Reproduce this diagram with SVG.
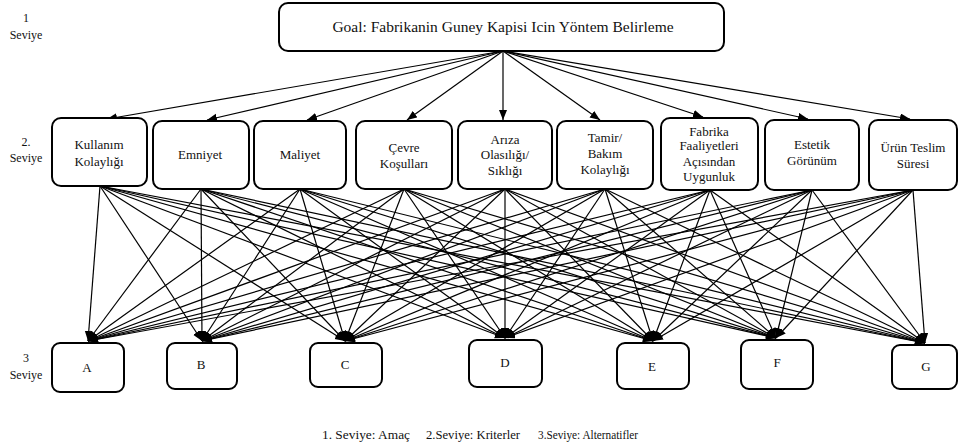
<svg xmlns="http://www.w3.org/2000/svg" width="959" height="445" viewBox="0 0 959 445">
<style>
.box{fill:#fff;stroke:#000;stroke-width:2}
.c line{stroke:#000;stroke-width:1.2;marker-end:url(#ah)}
</style>
<defs>
<marker id="ah" markerUnits="userSpaceOnUse" markerWidth="11" markerHeight="9" refX="10" refY="4" orient="auto">
<path d="M0,0 L10,4 L0,8 Z" fill="#000"/>
</marker>
</defs>
<rect width="959" height="445" fill="#fff"/>
<g id="level-labels" font-family="Liberation Serif" font-size="12" fill="#111" text-anchor="middle">
<text x="26" y="22">1</text>
<text x="26" y="39">Seviye</text>
<text x="26" y="146">2.</text>
<text x="26" y="162">Seviye</text>
<text x="26" y="362">3</text>
<text x="26" y="379">Seviye</text>
</g>
<g class="c" id="connectors">
<line x1="503" y1="51" x2="107" y2="119"/>
<line x1="503" y1="51" x2="207" y2="120"/>
<line x1="503" y1="51" x2="307" y2="120"/>
<line x1="503" y1="51" x2="407" y2="120"/>
<line x1="503" y1="51" x2="503" y2="120"/>
<line x1="503" y1="51" x2="600" y2="120"/>
<line x1="503" y1="51" x2="703" y2="117"/>
<line x1="503" y1="51" x2="808" y2="119"/>
<line x1="503" y1="51" x2="910" y2="119"/>

<line x1="100" y1="186" x2="88" y2="341"/>
<line x1="100" y1="186" x2="202" y2="341"/>
<line x1="100" y1="186" x2="345" y2="341"/>
<line x1="100" y1="186" x2="505" y2="338"/>
<line x1="100" y1="186" x2="653" y2="341"/>
<line x1="100" y1="186" x2="776" y2="338"/>
<line x1="100" y1="186" x2="925" y2="343"/>

<line x1="201" y1="189" x2="88" y2="341"/>
<line x1="201" y1="189" x2="202" y2="341"/>
<line x1="201" y1="189" x2="345" y2="341"/>
<line x1="201" y1="189" x2="505" y2="338"/>
<line x1="201" y1="189" x2="653" y2="341"/>
<line x1="201" y1="189" x2="776" y2="338"/>
<line x1="201" y1="189" x2="925" y2="343"/>

<line x1="300" y1="189" x2="88" y2="341"/>
<line x1="300" y1="189" x2="202" y2="341"/>
<line x1="300" y1="189" x2="345" y2="341"/>
<line x1="300" y1="189" x2="505" y2="338"/>
<line x1="300" y1="189" x2="653" y2="341"/>
<line x1="300" y1="189" x2="776" y2="338"/>
<line x1="300" y1="189" x2="925" y2="343"/>

<line x1="404" y1="189" x2="88" y2="341"/>
<line x1="404" y1="189" x2="202" y2="341"/>
<line x1="404" y1="189" x2="345" y2="341"/>
<line x1="404" y1="189" x2="505" y2="338"/>
<line x1="404" y1="189" x2="653" y2="341"/>
<line x1="404" y1="189" x2="776" y2="338"/>
<line x1="404" y1="189" x2="925" y2="343"/>

<line x1="505" y1="189" x2="88" y2="341"/>
<line x1="505" y1="189" x2="202" y2="341"/>
<line x1="505" y1="189" x2="345" y2="341"/>
<line x1="505" y1="189" x2="505" y2="338"/>
<line x1="505" y1="189" x2="653" y2="341"/>
<line x1="505" y1="189" x2="776" y2="338"/>
<line x1="505" y1="189" x2="925" y2="343"/>

<line x1="605" y1="189" x2="88" y2="341"/>
<line x1="605" y1="189" x2="202" y2="341"/>
<line x1="605" y1="189" x2="345" y2="341"/>
<line x1="605" y1="189" x2="505" y2="338"/>
<line x1="605" y1="189" x2="653" y2="341"/>
<line x1="605" y1="189" x2="776" y2="338"/>
<line x1="605" y1="189" x2="925" y2="343"/>

<line x1="710" y1="190" x2="88" y2="341"/>
<line x1="710" y1="190" x2="202" y2="341"/>
<line x1="710" y1="190" x2="345" y2="341"/>
<line x1="710" y1="190" x2="505" y2="338"/>
<line x1="710" y1="190" x2="653" y2="341"/>
<line x1="710" y1="190" x2="776" y2="338"/>
<line x1="710" y1="190" x2="925" y2="343"/>

<line x1="812" y1="190" x2="88" y2="341"/>
<line x1="812" y1="190" x2="202" y2="341"/>
<line x1="812" y1="190" x2="345" y2="341"/>
<line x1="812" y1="190" x2="505" y2="338"/>
<line x1="812" y1="190" x2="653" y2="341"/>
<line x1="812" y1="190" x2="776" y2="338"/>
<line x1="812" y1="190" x2="925" y2="343"/>

<line x1="913" y1="190" x2="88" y2="341"/>
<line x1="913" y1="190" x2="202" y2="341"/>
<line x1="913" y1="190" x2="345" y2="341"/>
<line x1="913" y1="190" x2="505" y2="338"/>
<line x1="913" y1="190" x2="653" y2="341"/>
<line x1="913" y1="190" x2="776" y2="338"/>
<line x1="913" y1="190" x2="925" y2="343"/>
</g>

<g id="goal">
<rect class="box" x="279" y="3" width="445" height="48" rx="9"/>
<text x="503" y="32" font-family="Liberation Serif" font-size="15.5" fill="#111" text-anchor="middle">Goal: Fabrikanin Guney Kapisi Icin Yöntem Belirleme</text>
</g>

<g id="level2" font-family="Liberation Serif" font-size="13" fill="#111" text-anchor="middle">
<g id="kullanim">
<rect class="box" x="52" y="118" width="95" height="68" rx="9"/>
<text x="99" y="149">Kullanım</text>
<text x="99" y="166">Kolaylığı</text>
</g>
<g id="emniyet">
<rect class="box" x="153" y="121" width="96" height="68" rx="9"/>
<text x="200" y="159">Emniyet</text>
</g>
<g id="maliyet">
<rect class="box" x="254" y="121" width="92" height="68" rx="9"/>
<text x="300" y="159">Maliyet</text>
</g>
<g id="cevre">
<rect class="box" x="356" y="121" width="96" height="68" rx="9"/>
<text x="404" y="152">Çevre</text>
<text x="404" y="168">Koşulları</text>
</g>
<g id="ariza">
<rect class="box" x="458" y="121" width="94" height="68" rx="9"/>
<text x="505" y="144">Arıza</text>
<text x="505" y="159">Olasılığı/</text>
<text x="505" y="175">Sıklığı</text>
</g>
<g id="tamir">
<rect class="box" x="557" y="121" width="96" height="68" rx="9"/>
<text x="605" y="142">Tamir/</text>
<text x="605" y="158">Bakım</text>
<text x="605" y="174">Kolaylığı</text>
</g>
<g id="fabrika">
<rect class="box" x="661" y="118" width="97" height="72" rx="9"/>
<text x="709" y="136">Fabrika</text>
<text x="709" y="150">Faaliyetleri</text>
<text x="709" y="166">Açısından</text>
<text x="709" y="181">Uygunluk</text>
</g>
<g id="estetik">
<rect class="box" x="765" y="120" width="94" height="70" rx="9"/>
<text x="812" y="149">Estetik</text>
<text x="812" y="165">Görünüm</text>
</g>
<g id="urun">
<rect class="box" x="869" y="120" width="88" height="70" rx="9"/>
<text x="913" y="152">Ürün Teslim</text>
<text x="913" y="168">Süresi</text>
</g>
</g>

<g id="level3" font-family="Liberation Serif" font-size="13" fill="#111" text-anchor="middle">
<g id="A">
<rect class="box" x="52" y="343" width="72" height="49" rx="8"/>
<text x="87" y="372">A</text>
</g>
<g id="B">
<rect class="box" x="167" y="343" width="70" height="46" rx="8"/>
<text x="201" y="369">B</text>
</g>
<g id="C">
<rect class="box" x="310" y="343" width="72" height="44" rx="8"/>
<text x="345" y="369">C</text>
</g>
<g id="D">
<rect class="box" x="469" y="340" width="73" height="47" rx="8"/>
<text x="505" y="367">D</text>
</g>
<g id="E">
<rect class="box" x="617" y="343" width="72" height="46" rx="8"/>
<text x="652" y="371">E</text>
</g>
<g id="F">
<rect class="box" x="741" y="340" width="72" height="49" rx="8"/>
<text x="777" y="367">F</text>
</g>
<g id="G">
<rect class="box" x="892" y="345" width="65" height="44" rx="8"/>
<text x="926" y="371">G</text>
</g>
</g>

<g id="legend" font-family="Liberation Serif" font-size="12.5" fill="#111" text-anchor="middle">
<text x="366" y="439" textLength="88" lengthAdjust="spacingAndGlyphs">1. Seviye: Amaç</text>
<text x="473" y="439" textLength="94" lengthAdjust="spacingAndGlyphs">2.Seviye: Kriterler</text>
<text x="588" y="439" textLength="100" lengthAdjust="spacingAndGlyphs">3.Seviye: Alternatifler</text>
</g>
</svg>
